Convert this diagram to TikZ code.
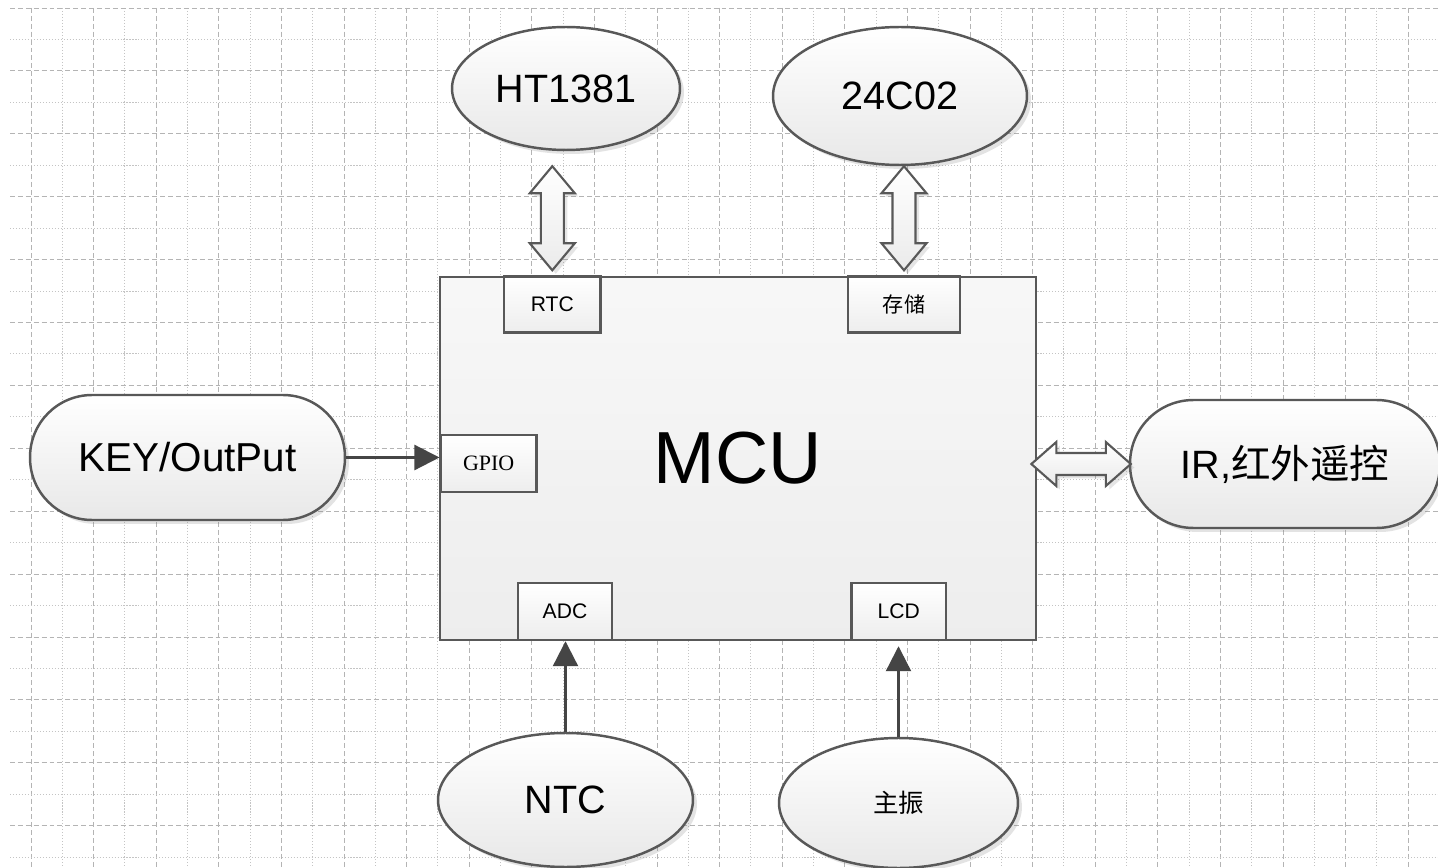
\documentclass[tikz,border=0pt]{standalone}
\usepackage{fontspec}
\setmainfont{Liberation Sans}
\newfontfamily\cjk{Noto Sans CJK SC}
\newfontfamily\tnr{Liberation Serif}
\usetikzlibrary{shapes.geometric,shapes.misc,shadows,calc,arrows.meta}
\definecolor{edge}{HTML}{585858}
\definecolor{lineC}{HTML}{454545}
\definecolor{gridA}{HTML}{B4B4B4}
\definecolor{gridB}{HTML}{C4C4C4}
\begin{document}
\begin{tikzpicture}[x=0.02cm,y=-0.02cm,
  gdash/.style={gridA, line width=0.55pt, dash pattern=on 2.8pt off 1.7pt},
  gdot/.style={gridB, line width=0.55pt, dash pattern=on 0.6pt off 1.1pt},
  blob/.style={draw=edge, line width=1.4pt, top color=white, bottom color=black!9,
    drop shadow={shadow xshift=0.08cm, shadow yshift=-0.08cm, opacity=0.22},
    inner sep=0pt, font=\fontsize{22.5}{26}\selectfont},
  chip/.style={draw=edge, line width=1.6pt, top color=black!3, bottom color=black!7, inner sep=0pt},
  port/.style={draw=edge, line width=1.4pt, top color=white, bottom color=black!7, inner sep=0pt,
    minimum height=1.12cm, font=\fontsize{12}{14}\selectfont},
  fat/.style={draw=edge, line width=1.2pt, top color=white, bottom color=black!8,
    drop shadow={shadow xshift=0.07cm, shadow yshift=-0.07cm, opacity=0.2}},
  thinarrow/.style={lineC, line width=1.3pt, -{Triangle[length=0.5cm, width=0.5cm]}}
]
\fill[white] (0,0) rectangle (1438,868);
\useasboundingbox (0,0) rectangle (1438,868);

% grid
\foreach \k in {0,...,44}{%
  \pgfmathsetmacro\gx{31+31.3*\k}%
  \ifodd\k \draw[gdot] (\gx,8) -- (\gx,868); \else \draw[gdash] (\gx,8) -- (\gx,868); \fi}
\foreach \k in {0,...,27}{%
  \pgfmathsetmacro\gy{8+31.45*\k}%
  \ifodd\k \draw[gdot] (10,\gy) -- (1438,\gy); \else \draw[gdash] (10,\gy) -- (1438,\gy); \fi}

% MCU body
\node[chip, minimum width=11.92cm, minimum height=7.26cm,
  font=\fontsize{42}{48}\selectfont] (mcu) at (738,458.5) {MCU};

% ports
\node[port, minimum width=1.93cm] (rtc) at (552.3,304.5) {RTC};
\node[port, minimum width=2.24cm, font=\cjk\fontsize{12}{14}\selectfont] (st) at (904,304.5) {存储};
\node[port, minimum width=1.92cm, minimum height=1.14cm, font=\tnr\fontsize{12.5}{14}\selectfont] (gpio) at (488.7,463.5) {GPIO};
\node[port, minimum width=1.88cm, minimum height=1.14cm] (adc) at (565,611.5) {ADC};
\node[port, minimum width=1.89cm, minimum height=1.14cm] (lcd) at (898.8,611.5) {LCD};

% outer blocks
\node[blob, ellipse, minimum width=4.56cm, minimum height=2.46cm] (ht) at (566,88.5) {HT1381};
\node[blob, ellipse, minimum width=5.08cm, minimum height=2.76cm] (eep) at (900,96) {24C02};
\node[blob, ellipse, minimum width=5.10cm, minimum height=2.68cm] (ntc) at (565.5,800) {NTC};
\node[blob, ellipse, minimum width=4.78cm, minimum height=2.60cm,
  font=\cjk\fontsize{14.5}{17}\selectfont] (osc) at (898.5,803) {主振};
\node[blob, rectangle, rounded corners=1.24cm, minimum width=6.30cm, minimum height=2.50cm,
  font=\fontsize{23}{27}\selectfont] (key) at (187.5,457.5) {KEY/OutPut};
\node[blob, rectangle, rounded corners=1.27cm, minimum width=6.20cm, minimum height=2.56cm]
  (ir) at (1285,464) {IR,{\cjk 红外遥控}};

% fat double arrows
\coordinate (t1) at ($(rtc.north |- ht.south)+(0,15)$);
\coordinate (b1) at ($(rtc.north)+(0,-5)$);
\draw[fat] (t1) -- ++(22.5,27) -- ++(-11,0) -- ($(b1)+(11.5,-27)$) -- ++(11,0) -- (b1)
  -- ++(-22.5,-27) -- ++(11,0) -- ($(t1)+(-11.5,27)$) -- ++(-11,0) -- cycle;

\coordinate (t2) at (st.north |- eep.south);
\coordinate (b2) at ($(st.north)+(0,-5)$);
\draw[fat] (t2) -- ++(22.5,27) -- ++(-11,0) -- ($(b2)+(11.5,-27)$) -- ++(11,0) -- (b2)
  -- ++(-22.5,-27) -- ++(11,0) -- ($(t2)+(-11.5,27)$) -- ++(-11,0) -- cycle;

\coordinate (l3) at ($(ir.west -| mcu.east)+(-6,0)$);
\coordinate (r3) at ($(ir.west)+(2,0)$);
\draw[fat] (l3) -- ++(25,-22) -- ++(0,11) -- ($(r3)+(-25,-11)$) -- ++(0,-11) -- (r3)
  -- ++(-25,22) -- ++(0,-11) -- ($(l3)+(25,11)$) -- ++(0,11) -- cycle;

% thin arrows
\draw[thinarrow] (key.east) -- (key.east -| gpio.west);
\draw[thinarrow] (ntc.north) -- (ntc.north |- adc.south);
\draw[thinarrow, shorten >=0.1cm] (osc.north) -- (osc.north |- lcd.south);
\end{tikzpicture}
\end{document}
